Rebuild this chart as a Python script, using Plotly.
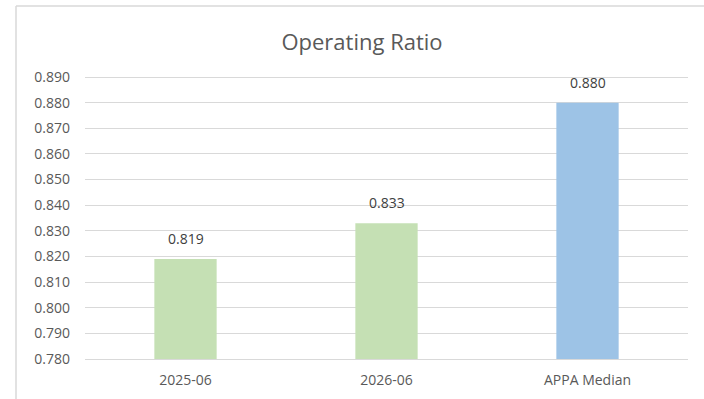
import plotly.graph_objects as go

categories = ["2025-06", "2026-06", "APPA Median"]
ratios = [0.819, 0.833, 0.880]
bar_colors = ["#C5E0B4", "#C5E0B4", "#9DC3E6"]
y_ticks = [0.780, 0.790, 0.800, 0.810, 0.820, 0.830, 0.840, 0.850, 0.860, 0.870, 0.880, 0.890]

W, H = 704, 399
ML, MR, MT, MB = 85, 16, 74, 40
pw, ph = W - ML - MR, H - MT - MB
px_per_unit = 282 / 0.110
y_top = 0.780 + ph / px_per_unit

FONT = "Open Sans, Liberation Sans, sans-serif"

fig = go.Figure(
    go.Bar(
        x=categories,
        y=ratios,
        marker=dict(color=bar_colors, line=dict(width=0)),
        width=0.31,
        hoverinfo="x+y",
    )
)

# value labels above each bar
for cat, val in zip(categories, ratios):
    fig.add_annotation(
        x=cat, y=val, text=f"{val:.3f}", showarrow=False,
        yanchor="bottom", yshift=9,
        font=dict(family=FONT, size=14, color="#404040"),
    )

# outer chart frame (left and top edges)
fx0 = (16 - ML) / pw
fy1 = 1 + (MT - 6) / ph
fig.add_shape(type="line", xref="paper", yref="paper", x0=fx0, x1=fx0, y0=-1, y1=fy1,
              line=dict(color="#D9D9D9", width=1.5))
fig.add_shape(type="line", xref="paper", yref="paper", x0=fx0, x1=2, y0=fy1, y1=fy1,
              line=dict(color="#D9D9D9", width=1.5))

fig.update_layout(
    width=W,
    height=H,
    margin=dict(l=ML, r=MR, t=MT, b=MB),
    paper_bgcolor="white",
    plot_bgcolor="white",
    showlegend=False,
    title=dict(
        text="Operating Ratio",
        x=362 / W,
        xanchor="center",
        y=1 - 42 / H,
        yanchor="middle",
        font=dict(family=FONT, size=22, color="#595959"),
    ),
    xaxis=dict(
        type="category",
        automargin=False,
        showgrid=False,
        showline=True,
        linecolor="#D9D9D9",
        linewidth=1,
        ticks="",
        ticklabelstandoff=8,
        tickfont=dict(family=FONT, size=14, color="#595959"),
    ),
    yaxis=dict(
        automargin=False,
        range=[0.780, y_top],
        tickvals=y_ticks,
        tickformat=".3f",
        showgrid=True,
        gridcolor="#D9D9D9",
        gridwidth=1,
        zeroline=False,
        showline=False,
        ticks="",
        ticklabelstandoff=14,
        tickfont=dict(family=FONT, size=14, color="#595959"),
    ),
)

fig.write_html("out.html")
